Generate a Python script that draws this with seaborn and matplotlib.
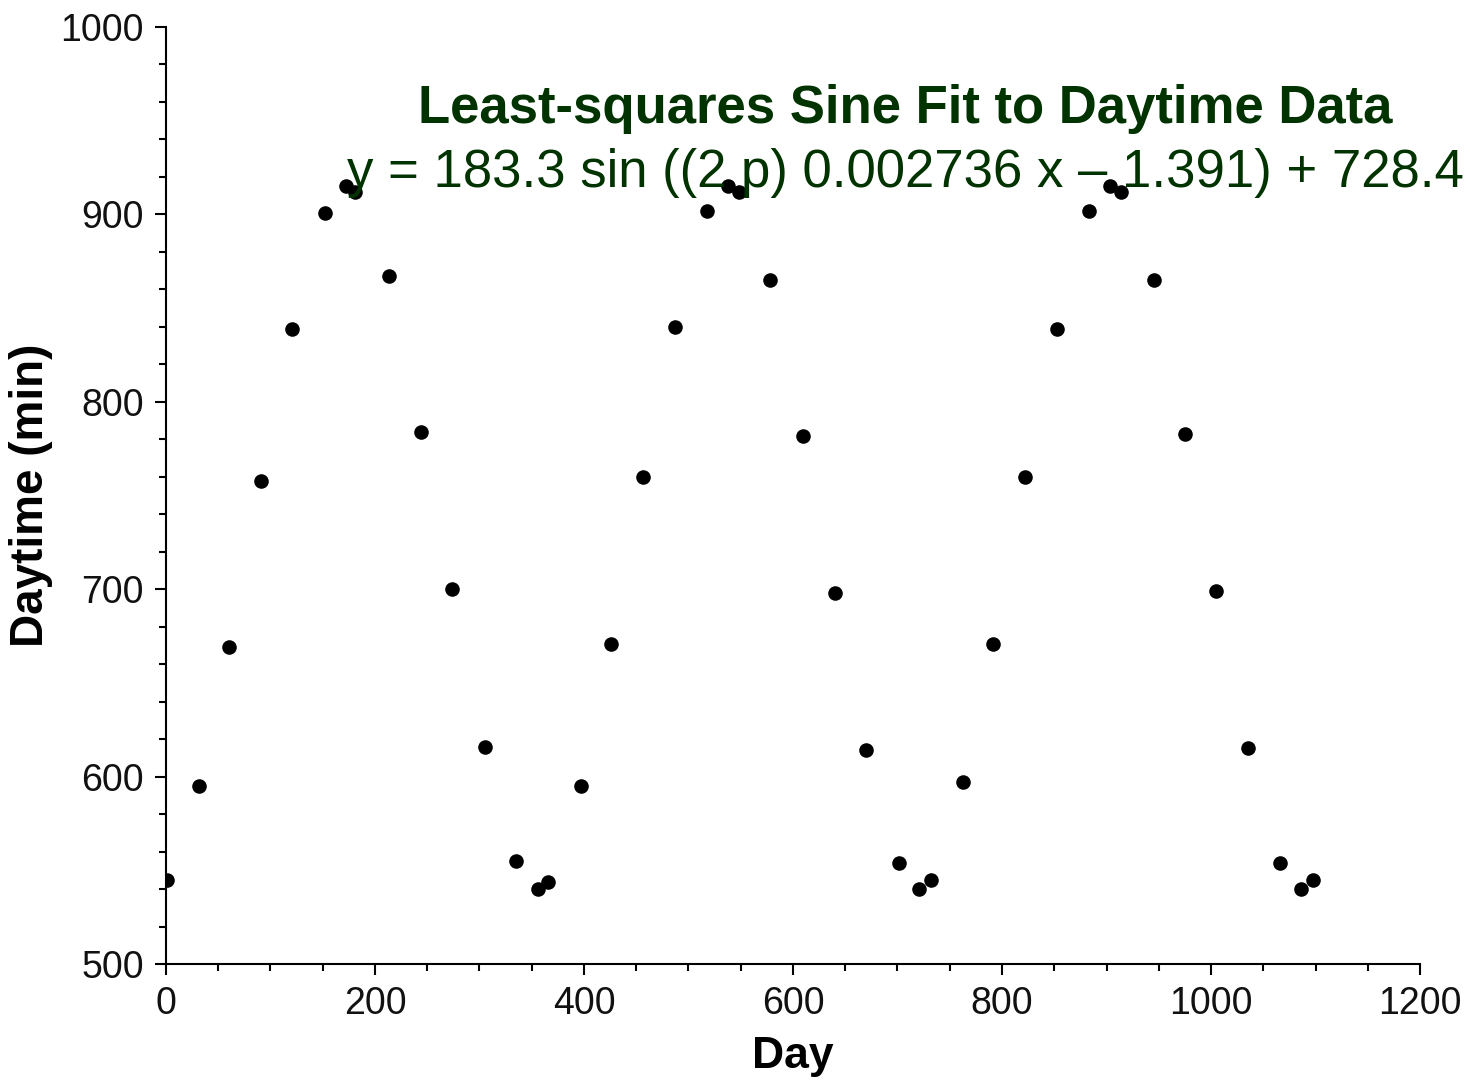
## Least-squares sine fit to daytime length data
import pandas as pd
import seaborn as sns
import matplotlib.pyplot as plt
import matplotlib.ticker as mtick

# day number and length of daytime (minutes)
day = [1, 32, 60, 91, 121, 152, 172, 181, 213, 244, 274, 305, 335, 356, 366,
       397, 426, 456, 487, 518, 538, 548, 578, 610, 640, 670, 701, 721, 732,
       763, 791, 822, 853, 883, 903, 914, 945, 975, 1005, 1035, 1066, 1086, 1098]
daytime = [545, 595, 669, 758, 839, 901, 915, 912, 867, 784, 700, 616, 555, 540, 544,
           595, 671, 760, 840, 902, 915, 912, 865, 782, 698, 614, 554, 540, 545,
           597, 671, 760, 839, 902, 915, 912, 865, 783, 699, 615, 554, 540, 545]

title = "Least-squares Sine Fit to Daytime Data"
equation = "y = 183.3 sin ((2 p) 0.002736 x \u2013 1.391) + 728.4"

df = pd.DataFrame({"Day": day, "Daytime": daytime})

sns.set_style("ticks")
plt.rcParams["font.family"] = ["Liberation Sans", "DejaVu Sans"]

fig = plt.figure(figsize=(14.7, 10.8), dpi=100)
ax = fig.add_axes([0.1129, 0.1074, 0.8531, 0.8676])

sns.scatterplot(x="Day", y="Daytime", data=df, ax=ax, color="black",
                s=110, linewidth=0, marker="o")

ax.set_xlim(0, 1200)
ax.set_ylim(500, 1000)
ax.xaxis.set_major_locator(mtick.MultipleLocator(200))
ax.xaxis.set_minor_locator(mtick.MultipleLocator(50))
ax.yaxis.set_major_locator(mtick.MultipleLocator(100))
ax.yaxis.set_minor_locator(mtick.MultipleLocator(20))

sns.despine(ax=ax)
for side in ["left", "bottom"]:
    ax.spines[side].set_linewidth(1.5)
    ax.spines[side].set_color("black")

ax.tick_params(which="major", direction="out", length=8, width=1.5,
               color="black", pad=8, labelsize=27, labelcolor="#111111")
ax.tick_params(which="minor", direction="out", length=5, width=1.5, color="black")

ax.set_xlabel("Day", fontsize=32, fontweight="bold", color="black", labelpad=10)
ax.set_ylabel("Daytime (min)", fontsize=33, fontweight="bold", color="black")
ax.yaxis.set_label_coords(-0.108, 0.5)
ax.yaxis.label.set_va("center")

fig.text(0.616, 0.886, title, ha="center", va="baseline", fontsize=38,
         fontweight="bold", color="#003300")
fig.text(0.616, 0.827, equation, ha="center", va="baseline", fontsize=38,
         color="#003300")

plt.savefig("out.png", dpi=100)
